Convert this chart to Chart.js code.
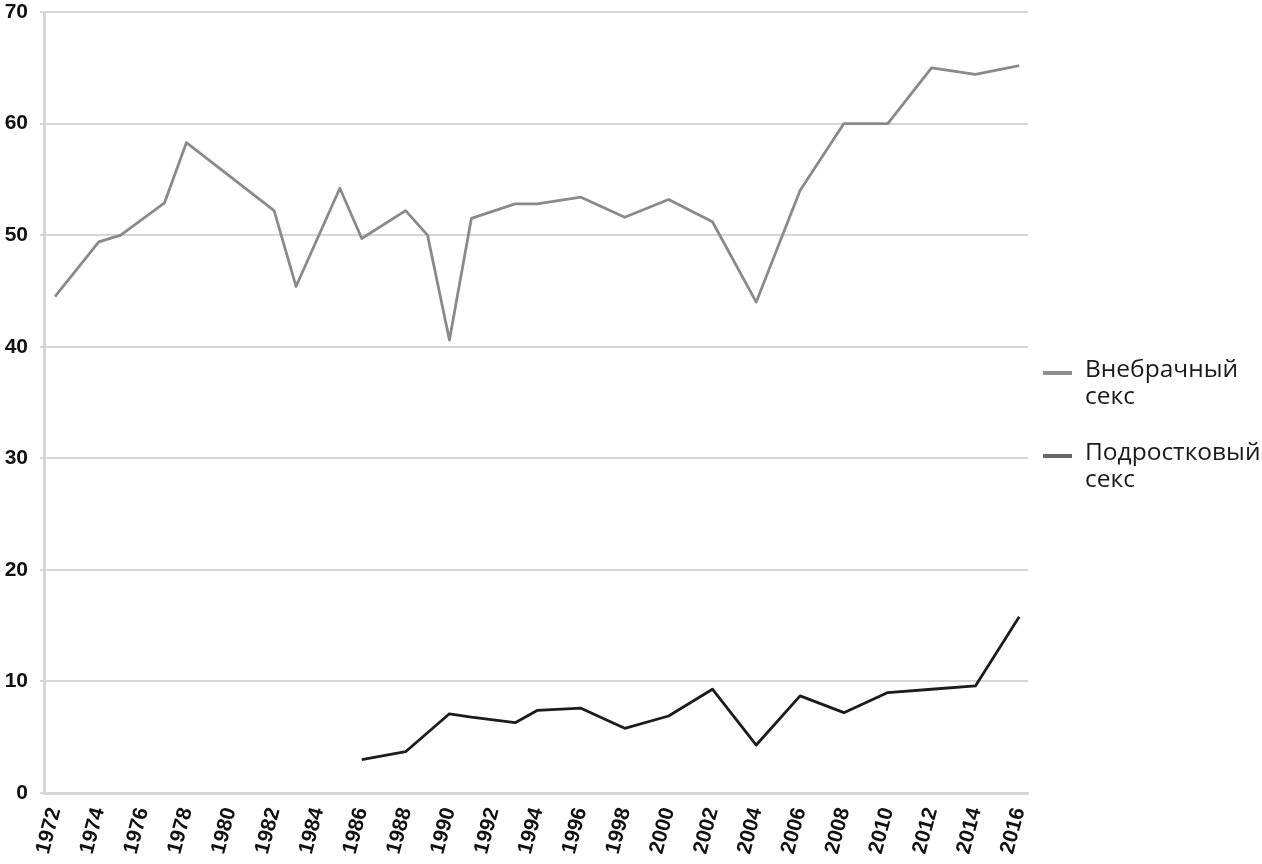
<!DOCTYPE html>
<html>
<head>
<meta charset="utf-8">
<script src="https://cdn.jsdelivr.net/npm/chart.js@4.4.1/dist/chart.umd.min.js"></script>
<style>
  html, body { margin: 0; padding: 0; background: #fff; overflow: hidden; }
  #wrap { position: relative; width: 1262px; height: 864px; }
  #legend { position: absolute; left: 1040px; top: 354px; font-family: "Open Sans", "Noto Sans", sans-serif; font-size: 24.5px; line-height: 27px; color: #1a1a1a; }
  #legend .item { position: relative; padding-left: 45px; margin-bottom: 29px; white-space: nowrap; }
  #legend .swatch { position: absolute; left: 3px; top: 17px; width: 29px; height: 4px; }
</style>
</head>
<body>
<div id="wrap">
  <canvas id="trendChart" width="1262" height="864"></canvas>
  <div id="legend"></div>
</div>
<script>
// values (percent)
const seriesLabels = ['Внебрачный секс', 'Подростковый секс'];

const affairYears  = [1972, 1974, 1975, 1977, 1978, 1982, 1983, 1985, 1986, 1988, 1989, 1990, 1991, 1993, 1994, 1996, 1998, 2000, 2002, 2004, 2006, 2008, 2010, 2012, 2014, 2016];
const affairValues = [44.5, 49.4, 50.0, 52.9, 58.3, 52.2, 45.4, 54.2, 49.7, 52.2, 50.0, 40.6, 51.5, 52.8, 52.8, 53.4, 51.6, 53.2, 51.2, 44.0, 54.0, 60.0, 60.0, 65.0, 64.4, 65.2];

const teenYears  = [1986, 1988, 1990, 1991, 1993, 1994, 1996, 1998, 2000, 2002, 2004, 2006, 2008, 2010, 2012, 2014, 2016];
const teenValues = [3.0, 3.7, 7.1, 6.8, 6.3, 7.4, 7.6, 5.8, 6.9, 9.3, 4.3, 8.7, 7.2, 9.0, 9.3, 9.6, 15.8];

const tickYears = [1972, 1974, 1976, 1978, 1980, 1982, 1984, 1986, 1988, 1990, 1992, 1994, 1996, 1998, 2000, 2002, 2004, 2006, 2008, 2010, 2012, 2014, 2016];
const yTicks = [0, 10, 20, 30, 40, 50, 60, 70];

(function() {
    const ctx = document.getElementById('trendChart');
    const toPoints = (xs, ys) => xs.map((x, i) => ({ x: x, y: ys[i] }));

    const chart = new Chart(ctx, {
        type: 'line',
        data: {
            datasets: [{
                label: seriesLabels[0],
                data: toPoints(affairYears, affairValues),
                borderColor: '#8a8a8a',
                borderWidth: 2.8,
                swatch: '#8f8f8f'
            }, {
                label: seriesLabels[1],
                data: toPoints(teenYears, teenValues),
                borderColor: '#1c1c1c',
                borderWidth: 2.8,
                swatch: '#666666'
            }]
        },
        options: {
            responsive: false,
            animation: false,
            devicePixelRatio: 1,
            elements: {
                point: { radius: 0, hoverRadius: 0 },
                line: { tension: 0, borderJoinStyle: 'round' }
            },
            layout: { padding: { top: 12, right: 234, bottom: 0, left: 0 } },
            scales: {
                x: {
                    type: 'linear',
                    min: 1971.5,
                    max: 2016.4,
                    afterBuildTicks: (scale) => { scale.ticks = tickYears.map(v => ({ value: v })); },
                    afterFit: (scale) => { scale.height = 71; },
                    grid: { display: false },
                    border: { display: true, color: '#d6d6d6', width: 3 },
                    ticks: {
                        autoSkip: false,
                        maxRotation: 75,
                        minRotation: 75,
                        padding: 4,
                        color: '#111',
                        font: { family: '"Liberation Sans", Arial, sans-serif', size: 21, weight: 'bold' },
                        callback: (value) => String(value)
                    }
                },
                y: {
                    min: 0,
                    max: 70,
                    afterBuildTicks: (scale) => { scale.ticks = yTicks.map(v => ({ value: v })); },
                    afterFit: (scale) => {
                        scale.width = 44;
                        scale.paddingTop = 0; // let the top label hang over the padding
                    },
                    grid: { color: '#d6d6d6', lineWidth: 2, tickLength: 4 },
                    border: { display: true, color: '#d6d6d6', width: 3 },
                    ticks: {
                        padding: 12,
                        color: '#111',
                        font: { family: '"Liberation Sans", Arial, sans-serif', size: 21, weight: 'bold' }
                    }
                }
            },
            plugins: {
                legend: { display: false },
                tooltip: { enabled: false }
            }
        }
    });

    // html legend, label split over two lines like the original
    const legend = document.getElementById('legend');
    chart.data.datasets.forEach(ds => {
        const item = document.createElement('div');
        item.className = 'item';
        const sw = document.createElement('span');
        sw.className = 'swatch';
        sw.style.background = ds.swatch;
        item.appendChild(sw);
        ds.label.split(' ').forEach((word, i) => {
            if (i > 0) item.appendChild(document.createElement('br'));
            item.appendChild(document.createTextNode(word));
        });
        legend.appendChild(item);
    });
})();
</script>
</body>
</html>
